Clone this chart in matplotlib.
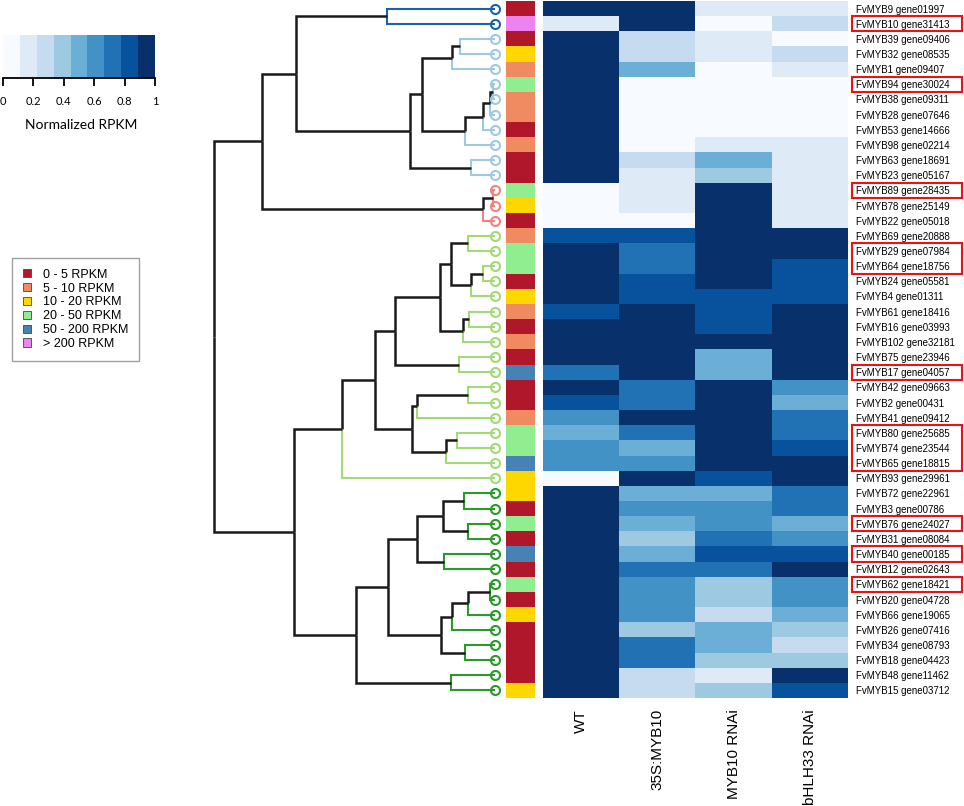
import matplotlib
matplotlib.use("Agg")
import matplotlib.pyplot as plt
import matplotlib.transforms as mtransforms
from matplotlib.colors import ListedColormap
from matplotlib.patches import Patch, Rectangle
import numpy as np

# ---------------- data ----------------
genes = [
    "FvMYB9 gene01997", "FvMYB10 gene31413", "FvMYB39 gene09406", "FvMYB32 gene08535",
    "FvMYB1 gene09407", "FvMYB94 gene30024", "FvMYB38 gene09311", "FvMYB28 gene07646",
    "FvMYB53 gene14666", "FvMYB98 gene02214", "FvMYB63 gene18691", "FvMYB23 gene05167",
    "FvMYB89 gene28435", "FvMYB78 gene25149", "FvMYB22 gene05018", "FvMYB69 gene20888",
    "FvMYB29 gene07984", "FvMYB64 gene18756", "FvMYB24 gene05581", "FvMYB4 gene01311",
    "FvMYB61 gene18416", "FvMYB16 gene03993", "FvMYB102 gene32181", "FvMYB75 gene23946",
    "FvMYB17 gene04057", "FvMYB42 gene09663", "FvMYB2 gene00431", "FvMYB41 gene09412",
    "FvMYB80 gene25685", "FvMYB74 gene23544", "FvMYB65 gene18815", "FvMYB93 gene29961",
    "FvMYB72 gene22961", "FvMYB3 gene00786", "FvMYB76 gene24027", "FvMYB31 gene08084",
    "FvMYB40 gene00185", "FvMYB12 gene02643", "FvMYB62 gene18421", "FvMYB20 gene04728",
    "FvMYB66 gene19065", "FvMYB26 gene07416", "FvMYB34 gene08793", "FvMYB18 gene04423",
    "FvMYB48 gene11462", "FvMYB15 gene03712",
]
samples = ["WT", "35S:MYB10", "MYB10 RNAi", "bHLH33 RNAi"]

# normalized RPKM, read as bin of the 9-step scale (0 = lowest, 8 = highest)
expr_bin = [
    [8, 8, 1, 1], [1, 8, 0, 2], [8, 2, 1, 0], [8, 2, 1, 2], [8, 4, 0, 1],
    [8, 0, 0, 0], [8, 0, 0, 0], [8, 0, 0, 0], [8, 0, 0, 0], [8, 0, 1, 1],
    [8, 2, 4, 1], [8, 1, 3, 1], [0, 1, 8, 1], [0, 1, 8, 1], [0, 0, 8, 1],
    [7, 7, 8, 8], [8, 6, 8, 8], [8, 6, 8, 7], [8, 7, 8, 7], [8, 7, 7, 7],
    [7, 8, 7, 8], [8, 8, 7, 8], [8, 8, 8, 8], [8, 8, 4, 8], [6, 8, 4, 8],
    [8, 6, 8, 5], [7, 6, 8, 4], [5, 8, 8, 6], [4, 6, 8, 6], [5, 4, 8, 7],
    [5, 5, 8, 8], [0, 8, 7, 8], [8, 4, 4, 6], [8, 5, 5, 6], [8, 4, 5, 4],
    [8, 3, 6, 5], [8, 4, 7, 7], [8, 6, 6, 8], [8, 5, 3, 5], [8, 5, 3, 5],
    [8, 5, 2, 4], [8, 3, 4, 3], [8, 6, 4, 2], [8, 6, 3, 3], [8, 2, 1, 8],
    [8, 2, 3, 7],
]

rpkm_labels = ["0 - 5 RPKM", "5 - 10 RPKM", "10 - 20 RPKM", "20 - 50 RPKM",
               "50 - 200 RPKM", "> 200 RPKM"]
rpkm_class = [0, 5, 0, 2, 1, 3, 1, 1, 0, 1, 0, 0, 3, 2, 0, 1, 3, 3, 0, 2, 1, 0, 1,
              0, 4, 0, 0, 1, 3, 3, 4, 2, 2, 0, 3, 0, 4, 0, 3, 0, 2, 0, 0, 0, 0, 2]

# cluster of each leaf in the dendrogram
leaf_cluster = [0, 0] + [1] * 10 + [2] * 3 + [3] * 17 + [4] * 14

# linkage: (child a, child b, height); leaves 0..45, merges numbered from 46
linkage = [
    (0, 1, 10.8), (2, 3, 3.5), (47, 4, 4.3), (5, 6, 0.2), (49, 7, 0.5),
    (50, 8, 1.2), (51, 9, 3.0), (48, 52, 7.3), (10, 11, 2.4), (53, 54, 8.5),
    (46, 55, 19.9), (12, 13, 0.2), (57, 14, 1.2), (56, 58, 23.3), (15, 16, 2.7),
    (17, 18, 1.2), (61, 19, 2.4), (60, 62, 4.4), (20, 21, 2.6), (64, 22, 3.2),
    (63, 65, 5.5), (23, 24, 3.6), (66, 67, 10.0), (25, 26, 2.7), (69, 27, 7.8),
    (28, 29, 3.8), (71, 30, 4.9), (70, 72, 8.3), (68, 73, 12.0), (74, 31, 15.3),
    (32, 33, 3.1), (34, 35, 2.7), (76, 77, 5.2), (36, 37, 5.1), (78, 79, 7.8),
    (38, 39, 0.5), (81, 40, 2.7), (82, 41, 4.3), (42, 43, 3.0), (83, 84, 5.4),
    (80, 85, 10.7), (44, 45, 4.4), (86, 87, 13.9), (75, 88, 20.1), (59, 89, 28.1),
]

highlight_groups = [(1, 1), (5, 5), (12, 12), (16, 17), (24, 24), (28, 30),
                    (34, 34), (36, 36), (38, 38)]

# ---------------- styles ----------------
blues9 = ["#f7fbff", "#deebf7", "#c6dbef", "#9ecae1", "#6baed6",
          "#4292c6", "#2171b5", "#08519c", "#08306b"]
rpkm_colors = ["#b0172b", "#f08a60", "#ffd700", "#90ee90", "#4682b4", "#ee82ee"]
cluster_colors = ["#1a62aa", "#9ecae1", "#f58080", "#a3d977", "#2a9a2a"]

W, H = 964, 806
fig = plt.figure(figsize=(W / 100, H / 100), dpi=100)
plt.rcParams["font.family"] = ["Liberation Sans", "DejaVu Sans"]

def fx(px):
    return px / W

def fy(py):
    return 1 - py / H

n = len(genes)
top_px, bot_px = 1, 698
ax_bottom = fy(bot_px)
ax_height = (bot_px - top_px) / H

# ---------------- dendrogram ----------------
axd = fig.add_axes([fx(214), ax_bottom, fx(495) - fx(214), ax_height])
axd.set_xlim(28.1, 0)
axd.set_ylim(n - 0.5, -0.5)
axd.axis("off")

pos = {i: (0.0, float(i)) for i in range(n)}
for k, (a, b, h) in enumerate(linkage):
    pos[n + k] = (h, (pos[a][1] + pos[b][1]) / 2)

for k, (a, b, h) in enumerate(linkage):
    node = n + k
    hy = pos[node][1]
    for c in (a, b):
        ch, cy = pos[c]
        col = cluster_colors[leaf_cluster[c]] if c < n else "#1a1a1a"
        lw = 1.5 if c < n else 1.8
        axd.plot([h, h, ch], [hy, cy, cy], color=col, lw=lw,
                 solid_capstyle="butt", solid_joinstyle="miter", clip_on=False)

for i in range(n):
    axd.plot(0, i, marker="o", ms=6.5, mfc="none", mew=1.5,
             mec=cluster_colors[leaf_cluster[i]], clip_on=False, zorder=5)

# ---------------- side colour bar ----------------
axs = fig.add_axes([fx(506), ax_bottom, fx(535) - fx(506), ax_height])
axs.imshow(np.array(rpkm_class)[:, None], cmap=ListedColormap(rpkm_colors),
           vmin=-0.5, vmax=5.5, aspect="auto", interpolation="nearest")
axs.axis("off")

# ---------------- heatmap ----------------
axh = fig.add_axes([fx(543), ax_bottom, fx(848) - fx(543), ax_height])
cmap_b = ListedColormap(blues9)
axh.imshow(np.array(expr_bin), cmap=cmap_b, vmin=-0.5, vmax=8.5,
           aspect="auto", interpolation="nearest")
for s in axh.spines.values():
    s.set_visible(False)
axh.yaxis.tick_right()
axh.set_yticks(range(n))
axh.set_yticklabels(genes, fontsize=7)
axh.tick_params(axis="y", length=0, pad=6)
axh.set_xticks(range(len(samples)))
axh.set_xticklabels(samples, rotation=90, fontsize=11)
axh.tick_params(axis="x", length=0, pad=8)

trans = mtransforms.blended_transform_factory(fig.transFigure, axh.transData)
for r0, r1 in highlight_groups:
    axh.add_patch(Rectangle((fx(852), r0 - 0.5), fx(962) - fx(852), r1 - r0 + 1,
                            transform=trans, fill=False, edgecolor="#ee1111",
                            lw=1.5, clip_on=False))

# ---------------- colour scale ----------------
axc = fig.add_axes([fx(3), fy(78), fx(155) - fx(3), (78 - 35) / H])
axc.imshow(np.arange(9)[None, :], cmap=cmap_b, vmin=-0.5, vmax=8.5,
           aspect="auto", extent=[0, 1, 0, 1], interpolation="nearest")
for side in ("top", "left", "right"):
    axc.spines[side].set_visible(False)
axc.spines["bottom"].set_linewidth(1.3)
axc.set_yticks([])
cticks = [0, 0.2, 0.4, 0.6, 0.8, 1]
axc.set_xticks(cticks)
axc.set_xticklabels(["0", "0.2", "0.4", "0.6", "0.8", "1"],
                    fontsize=8, family=["Lato", "DejaVu Sans"])
axc.tick_params(axis="x", length=6, width=1.3, pad=7, direction="out")
fig.text(fx(81), fy(125), "Normalized RPKM", ha="center", va="center",
         fontsize=10, family=["Lato", "DejaVu Sans"])

# ---------------- RPKM legend ----------------
handles = [Patch(facecolor=c, edgecolor="#444444", lw=0.6) for c in rpkm_colors]
fig.legend(handles, rpkm_labels, loc="upper left",
           bbox_to_anchor=(fx(12), fy(258)), bbox_transform=fig.transFigure,
           fontsize=9, frameon=True, fancybox=False, edgecolor="#8a8a8a",
           handlelength=0.65, handleheight=0.65, handletextpad=1.0,
           labelspacing=0.15, borderpad=0.85, borderaxespad=0)

fig.savefig("out.png", dpi=100)
